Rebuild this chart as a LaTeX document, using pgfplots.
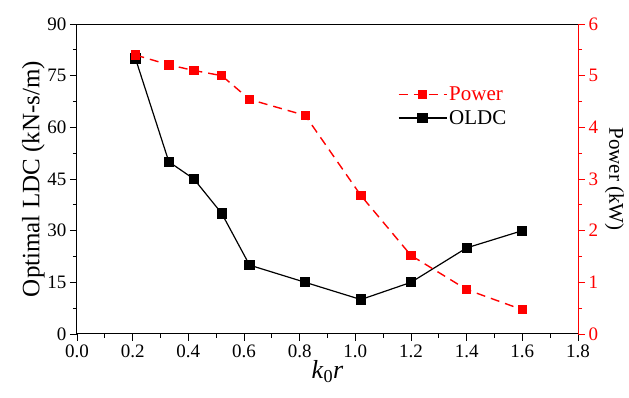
\documentclass[border=0pt]{standalone}
\usepackage{pgfplots}
\pgfplotsset{compat=1.18}
\usepackage{fontspec}
\setmainfont{Liberation Serif}
\begin{document}
\begin{tikzpicture}
\path[use as bounding box] (-77pt,-64pt) rectangle (552pt,334pt);
\begin{axis}[
  at={(0,0)}, anchor=south west,
  scale only axis, width=501pt, height=310pt,
  xmin=0, xmax=1.8, ymin=0, ymax=90,
  xtick={0,0.2,...,1.8}, ytick={0,15,...,90},
  minor x tick num=1, minor y tick num=1,
  xtick pos=bottom, ytick pos=left,
  tick align=outside,
  major tick length=7pt, minor tick length=4pt,
  every tick/.style={black, line width=0.9pt},
  axis line style={line width=1pt},
  /pgf/number format/assume math mode=true,
  xticklabel={\pgfmathprintnumber[fixed,fixed zerofill,precision=1,assume math mode=true]{\tick}},
  yticklabel={\pgfmathprintnumber[fixed,precision=0,assume math mode=true]{\tick}},
  tick label style={font=\rmfamily\fontsize{19}{21}\selectfont},
  xlabel={\textit{k}\textsubscript{0}\textit{r}},
  xlabel style={font=\rmfamily\fontsize{26}{28}\selectfont, yshift=4pt},
  ylabel={Optimal LDC (kN-s/m)},
  ylabel style={font=\rmfamily\fontsize{25}{28}\selectfont, yshift=-4pt},
]
\addplot[black, line width=1.2pt, mark=square*, mark size=4.5pt, mark options={solid}] coordinates {
(0.21,80) (0.33,50) (0.42,45) (0.52,35) (0.62,20) (0.82,15) (1.02,10) (1.2,15) (1.4,25) (1.6,30)
};
\end{axis}
\begin{axis}[
  at={(0,0)}, anchor=south west,
  scale only axis, width=501pt, height=310pt,
  xmin=0, xmax=1.8, ymin=0, ymax=6,
  axis x line=none,
  axis y line*=right,
  ytick={0,1,...,6}, minor y tick num=1,
  tick align=outside,
  major tick length=7pt, minor tick length=4pt,
  every tick/.style={red, line width=0.9pt},
  y axis line style={red, line width=1pt},
  yticklabel={\pgfmathprintnumber[fixed,precision=0,assume math mode=true]{\tick}},
  yticklabel style={red, font=\rmfamily\fontsize{19}{21}\selectfont},
  ylabel={Power (kW)},
  ylabel style={font=\rmfamily\fontsize{21}{24}\selectfont, rotate=180, yshift=0pt},
  legend style={draw=none, fill=none, at={(0.634,0.81)}, anchor=north west, font=\rmfamily\fontsize{21}{24}\selectfont, row sep=4pt,
    /tikz/every even column/.append style={column sep=0pt}},
  legend cell align=left,
  legend image code/.code={\draw[mark repeat=2,mark phase=2,#1] plot coordinates {(0pt,0pt) (24pt,0pt) (48pt,0pt)};},
]
\addplot[red, line width=1.4pt, dash pattern=on 9pt off 6pt, mark=square*, mark size=4pt, mark options={solid}] coordinates {
(0.21,5.40) (0.33,5.21) (0.42,5.10) (0.52,5.00) (0.62,4.54) (0.82,4.23) (1.02,2.68) (1.2,1.52) (1.4,0.86) (1.6,0.47)
};
\addlegendentry{\textcolor{red}{Power}}
\addlegendimage{black, line width=1.2pt, mark=square*, mark size=4.5pt}
\addlegendentry{OLDC}
\end{axis}
\end{tikzpicture}
\end{document}
